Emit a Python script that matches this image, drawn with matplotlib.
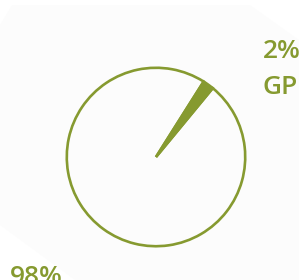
import matplotlib
matplotlib.use("Agg")
import matplotlib.pyplot as plt
from matplotlib.patches import Polygon

labels = ["GPU", "CPU"]
values = [2, 98]
pct_labels = ["2%", "98%"]

OLIVE = "#869a30"
W, H = 299, 280
fig = plt.figure(figsize=(W / 100, H / 100), dpi=100)
fig.patch.set_facecolor("white")

# subtle background card
bg = fig.add_axes([0, 0, 1, 1])
bg.set_xlim(0, W)
bg.set_ylim(H, 0)
bg.axis("off")
bg.add_patch(Polygon([(12, 5), (250, 5), (299, 40), (299, 280), (75, 280),
                      (0, 225), (0, 25)], closed=True,
                     facecolor="#fcfcfc", edgecolor="none"))

cx, cy, r = 156, 157, 91
ax = fig.add_axes([(cx - r) / W, (H - cy - r) / H, 2 * r / W, 2 * r / H])
wedges, _ = ax.pie(values, startangle=50.5, counterclock=True,
                   colors=[OLIVE, "none"],
                   wedgeprops=dict(edgecolor=OLIVE, linewidth=1.9))
ax.set_xlim(-1.02, 1.02)
ax.set_ylim(-1.02, 1.02)
ax.axis("off")

font = dict(family=["Open Sans", "DejaVu Sans"], fontweight="semibold",
            color=OLIVE, fontsize=19)
fig.text(263 / W, (H - 58.5) / H, pct_labels[0], va="baseline", ha="left", **font)
fig.text(263 / W, (H - 94.5) / H, labels[0], va="baseline", ha="left", **font)
fig.text(10 / W, (H - 284.5) / H, pct_labels[1], va="baseline", ha="left", **font)

fig.savefig("out.png", dpi=100, facecolor="white")
